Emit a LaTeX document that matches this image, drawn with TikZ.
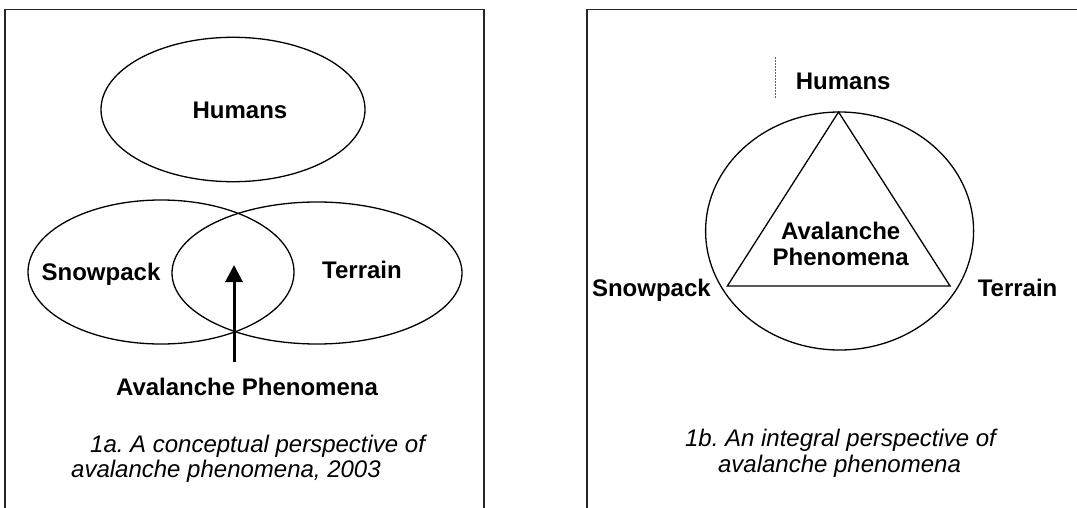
\documentclass[tikz,border=0pt]{standalone}
\usepackage{fontspec}
\setmainfont{Liberation Sans}
\frenchspacing
\usetikzlibrary{positioning,arrows.meta}
\tikzset{
  lbl/.style={font=\fontsize{24}{25.7}\selectfont\bfseries, anchor=base, inner sep=0pt},
  captxt/.style={font=\fontsize{24}{26}\selectfont\itshape, anchor=base, inner sep=0pt},
  ring/.style={black, line width=1.3pt},
  frame/.style={black!85, line width=1.6pt},
  uparrow/.style={black, line width=3pt, -{Triangle[width=17pt,length=17pt]}},
}
\begin{document}
\begin{tikzpicture}[scale=0.3515]
		\useasboundingbox (0,0) rectangle (107.7,-50.8);
		% 1a: overlapping sets
		\draw [frame] (0.5,-50.8) -- (0.5,-0.95) -- (48.4,-0.95) -- (48.4,-50.8);
		\draw [ring] (23.3,-10.95) ellipse (13.2 and 7.22);
		\draw [ring] (16.1,-27.2) ellipse (13.3 and 7.2);
		\draw [ring] (31.7,-27.3) ellipse (14.5 and 7.1);
		\node [lbl] (humA) at (24.0,-11.83) {Humans};
		\node [lbl] (snowA) at (10.1,-28.0) {Snowpack};
		\node [lbl] (terrA) at (36.2,-27.83) {Terrain};
		\node [lbl] (avlA) at (24.7,-39.5) {Avalanche Phenomena};
		\coordinate (tail) at (23.4,-36.2);
		\coordinate (tip) at (23.4,-26.5);
		\draw [uparrow] (tail) -- (tip);
		\node [captxt, anchor=base west] (capA1) at (9.0,-45.2) {1a. A conceptual perspective of};
		\node [captxt, anchor=base west] (capA2) at (7.1,-47.7) {avalanche phenomena, 2003};
		% 1b: triangle in a circle
		\draw [frame] (58.7,-50.8) -- (58.7,-0.95) -- (107.7,-0.95);
		\draw [ring] (83.96,-23.1) ellipse (13.4 and 11.9);
		\coordinate (top) at (83.85,-11.2);
		\coordinate (left) at (72.73,-28.6);
		\coordinate (right) at (95.0,-28.6);
		\draw [ring, line join=miter] (top) -- (left) -- (right) -- cycle;
		\draw [black!60, line width=0.5pt, densely dotted] (77.5,-5.67) -- (77.5,-9.73);
		\node [lbl] (humB) at (84.32,-8.93) {Humans};
		\node [lbl, align=center, anchor=north] (avlB) at (84.07,-22.18) {Avalanche\\Phenomena};
		\node [lbl] (snowB) at (65.14,-29.67) {Snowpack};
		\node [lbl] (terrB) at (101.76,-29.67) {Terrain};
		\node [captxt] (capB1) at (84.05,-44.6) {1b. An integral perspective of};
		\node [captxt] (capB2) at (83.95,-47.2) {avalanche phenomena};
\end{tikzpicture}
\end{document}
